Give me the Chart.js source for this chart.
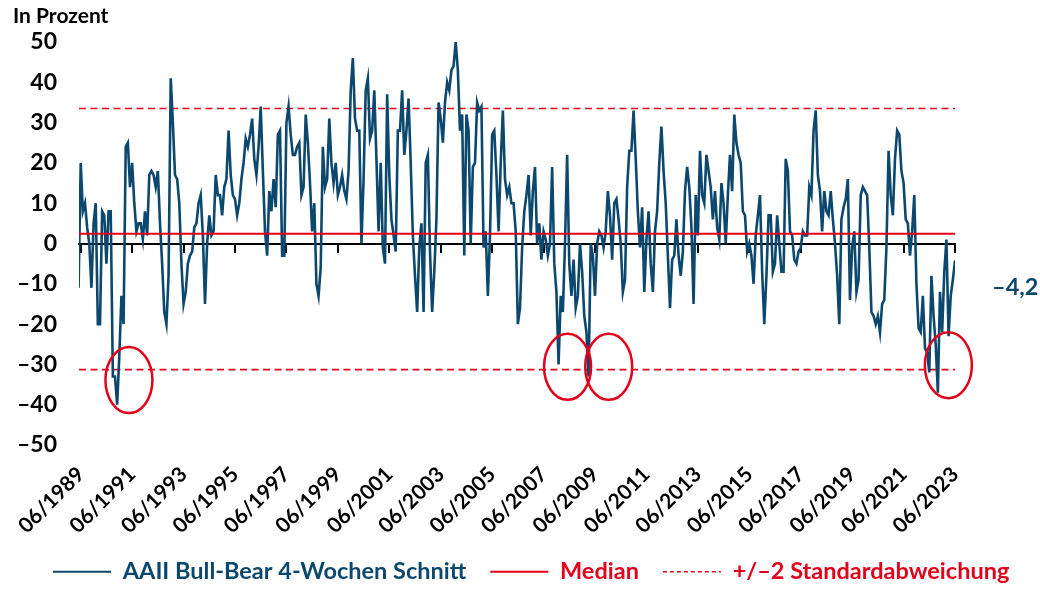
<!DOCTYPE html>
<html><head><meta charset="utf-8">
<script src="https://cdn.jsdelivr.net/npm/chart.js@4.4.1/dist/chart.umd.min.js"></script>
<style>html,body{margin:0;padding:0;background:#fff;}#wrap{width:1040px;height:590px;}</style>
</head><body><div id="wrap"><canvas id="c" width="1040" height="590"></canvas></div>
<script>
// Monthly AAII bull-bear spread (4-week average), in percent. Month offsets are relative to 06/1989.
const firstMonthOffset = -1; // series starts 05/1989
const s1989_1990 = [-11, 20, 8, 10, 4, 0, -11, 5, 10, -20, -20, 8, 7, -5, 8, 8, -33, -33, -40, -28];
const s1991 = [-13, -20, 24, 25, 14, 20, 10, 3, 5, 5, 1, 8];
const s1992 = [2, 17, 18, 17, 14, 18, 5, -5, -17, -20, -8, 41];
const s1993 = [30, 17, 16, 10, -5, -15, -12, -5, -3, -2, 4, 5];
const s1994 = [10, 12, 2, -15, 0, 7, 2, 3, 17, 12, 12, 7];
const s1995 = [14, 16, 28, 17, 12, 11, 7, 10, 16, 20, 26, 24];
const s1996 = [27, 31, 21, 17, 24, 34, 18, 3, -3, 13, 8, 16];
const s1997 = [9, 27, 28, -3, -3, 30, 34, 27, 22, 22, 24, 25];
const s1998 = [12, 14, 32, 25, 15, 3, 10, -10, -13, -6, 24, 14];
const s1999 = [16, 31, 20, 15, 20, 12, 14, 17, 13, 11, 18, 38];
const s2000 = [46, 31, 28, 28, 0, 16, 38, 41, 26, 28, 38, 21];
const s2001 = [3, 20, -1, -5, 37, 17, 6, 2, -2, 28, 28, 38];
const s2002 = [22, 28, 36, 20, 2, -8, -17, -1, 5, -17, 20, 22];
const s2003 = [-2, -17, -7, 6, 35, 31, 25, 35, 40, 38, 43, 44];
const s2004 = [50, 43, 28, 32, -3, 32, 28, 0, 19, 20, 35, 33];
const s2005 = [34, -1, 3, -13, 2, 27, 28, 17, 3, 20, 33, 16];
const s2006 = [12, 14, 10, 10, 3, -20, -16, -1, 8, 12, 17, 2];
const s2007 = [13, 19, 0, 5, -4, 3, 1, -3, 0, 19, -5, -12];
const s2008 = [-30, -13, -17, 0, 22, -5, -13, -4, -16, -13, 0, -7];
const s2009 = [-18, -22, -33, 0, -3, -13, 0, 3, 2, -1, 3, 13];
const s2010 = [7, -4, 10, 11, 6, 0, -12, -9, 14, 23, 23, 33];
const s2011 = [21, 8, -1, 9, -12, 1, 8, -5, -12, 3, 8, 20];
const s2012 = [29, 18, 10, -3, -16, -4, -3, 6, -3, -8, -2, 13];
const s2013 = [19, 14, 4, -15, 12, 2, 23, 12, 10, 22, 18, 14];
const s2014 = [6, 13, 4, 1, 15, 10, 0, 12, 22, 13, 32, 25];
const s2015 = [22, 20, 8, 7, -2, 0, -3, -10, 2, 7, 12, -7];
const s2016 = [-20, -8, 7, 7, -7, -5, 7, 0, -7, -7, 21, 18];
const s2017 = [3, 2, -4, -5, -2, -1, 3, 2, 2, 14, 12, 28];
const s2018 = [33, 17, 13, 3, 13, 8, 7, 13, 6, 0, -8, -20];
const s2019 = [6, 9, 11, 16, -14, -1, 3, -12, -9, 12, 14, 13];
const s2020 = [12, -1, -17, -18, -20, -18, -22, -15, -14, -1, 23, 12];
const s2021 = [7, 21, 28, 27, 18, 15, 6, 5, -3, 3, 12, -10];
const s2022 = [-21, -22, -13, -26, -27, -32, -8, -18, -25, -37, -12, -22];
const s2023 = [-7, 1, -23, -13, -9, -4.2];

const tickLabels = ['06/1989','06/1991','06/1993','06/1995','06/1997','06/1999','06/2001','06/2003','06/2005','06/2007','06/2009','06/2011','06/2013','06/2015','06/2017','06/2019','06/2021','06/2023'];
const medianValue = 2.4;
const sigmaUpper = 33.5;
const sigmaLower = -31.3;
const circleMonths = [22.5, 227.2, 246.4, 404.9];
const circleValues = [-33.9, -30.6, -30.6, -30.2];
const lastValue = -4.2;
const lastValueLabel = '\u20134,2';
const legendTexts = ['AAII Bull-Bear 4-Wochen Schnitt', 'Median', '+/\u20132 Standardabweichung'];

const BLUE = '#0c486e';
const RED = '#e2001a';
const FONT = 'Lato';

const spread = [].concat(s1989_1990, s1991, s1992, s1993, s1994, s1995, s1996, s1997, s1998, s1999, s2000,
  s2001, s2002, s2003, s2004, s2005, s2006, s2007, s2008, s2009, s2010, s2011, s2012, s2013, s2014, s2015,
  s2016, s2017, s2018, s2019, s2020, s2021, s2022, s2023);
const seriesPoints = spread.map((v, i) => ({x: firstMonthOffset + i, y: v}));
const tickMonths = tickLabels.map((_, i) => i * 24);
const xMin = -0.8;
const xMax = firstMonthOffset + spread.length - 1;
const flat = v => [{x: xMin, y: v}, {x: xMax, y: v}];

const annotate = {
  id: 'annotate',
  afterLayout(chart) {
    if (chart.legend) { chart.legend.left = 29; }
  },
  afterDatasetsDraw(chart) {
    const {ctx, chartArea, scales: {x, y}} = chart;
    ctx.save();
    ctx.strokeStyle = RED; ctx.lineWidth = 2.5;
    circleMonths.forEach((m, i) => {
      ctx.beginPath();
      ctx.ellipse(x.getPixelForValue(m), y.getPixelForValue(circleValues[i]), 23.5, 33, 0, 0, Math.PI * 2);
      ctx.stroke();
    });
    ctx.fillStyle = BLUE; ctx.font = 'bold 23.5px ' + FONT; ctx.textAlign = 'left'; ctx.textBaseline = 'middle';
    ctx.fillText(lastValueLabel, chartArea.right + 37, y.getPixelForValue(lastValue) + 27);
    ctx.fillStyle = '#000'; ctx.font = 'bold 21px ' + FONT;
    ctx.fillText('In Prozent', chartArea.left - 66, chartArea.top - 26);
    ctx.restore();
  }
};

new Chart(document.getElementById('c'), {
  type: 'line',
  data: {
    datasets: [
      {label: legendTexts[0], data: seriesPoints, borderColor: BLUE, borderWidth: 2.6, pointRadius: 0, tension: 0, order: 1},
      {label: legendTexts[1], data: flat(medianValue), borderColor: RED, borderWidth: 2, pointRadius: 0, order: 0},
      {label: legendTexts[2], data: flat(sigmaUpper), borderColor: RED, borderWidth: 1.7, borderDash: [7, 4.5], pointRadius: 0, order: 2},
      {label: legendTexts[2], data: flat(sigmaLower), borderColor: RED, borderWidth: 1.7, borderDash: [7, 4.5], pointRadius: 0, order: 2}
    ]
  },
  options: {
    responsive: false,
    animation: false,
    devicePixelRatio: 1,
    layout: {padding: {top: 42, left: 0, right: 0, bottom: 0}},
    scales: {
      x: {
        type: 'linear', min: xMin, max: xMax, position: 'bottom',
        afterBuildTicks: s => { s.ticks = tickMonths.map(v => ({value: v})); },
        afterFit: s => { s.height = 91; },
        grid: {display: false, drawTicks: false}, border: {display: false},
        ticks: {autoSkip: false, maxRotation: 45, minRotation: 45, padding: 17, font: {family: FONT, weight: 'bold', size: 21}, color: '#000',
          callback: (v, i) => tickLabels[i]}
      },
      xZero: {
        type: 'linear', min: xMin, max: xMax, position: {y: 0}, z: 2,
        afterBuildTicks: s => { s.ticks = tickMonths.map(v => ({value: v})); },
        grid: {drawOnChartArea: false, drawTicks: true, tickLength: 8, color: '#000', lineWidth: 2},
        border: {display: true, color: '#000', width: 2},
        ticks: {display: false}
      },
      y: {
        type: 'linear', min: -50, max: 50, position: 'left',
        afterFit: s => { s.width = 79; },
        grid: {display: false, drawTicks: false}, border: {display: false},
        ticks: {stepSize: 10, padding: 22, font: {family: FONT, weight: 'bold', size: 23}, color: '#000',
          callback: v => v < 0 ? '\u2013' + Math.abs(v) : String(v)}
      },
      yRight: {
        type: 'linear', position: 'right', display: true,
        afterFit: s => { s.width = 85; },
        grid: {display: false, drawTicks: false}, border: {display: false},
        ticks: {display: false}
      }
    },
    plugins: {
      tooltip: {enabled: false},
      title: {display: false},
      legend: {
        position: 'bottom',
        align: 'start',
        maxHeight: 54,
        labels: {
          usePointStyle: true, pointStyleWidth: 58, padding: 24,
          font: {family: FONT, weight: 'bold', size: 23.5},
          generateLabels: () => [
            {text: legendTexts[0], fontColor: BLUE, strokeStyle: BLUE, fillStyle: BLUE, lineWidth: 2, pointStyle: 'line', lineDash: [], datasetIndex: 0},
            {text: legendTexts[1], fontColor: RED, strokeStyle: RED, fillStyle: RED, lineWidth: 2, pointStyle: 'line', lineDash: [], datasetIndex: 1},
            {text: legendTexts[2], fontColor: RED, strokeStyle: RED, fillStyle: RED, lineWidth: 1.5, pointStyle: 'line', lineDash: [4, 3], datasetIndex: 2}
          ]
        }
      }
    }
  },
  plugins: [annotate]
});
</script></body></html>
